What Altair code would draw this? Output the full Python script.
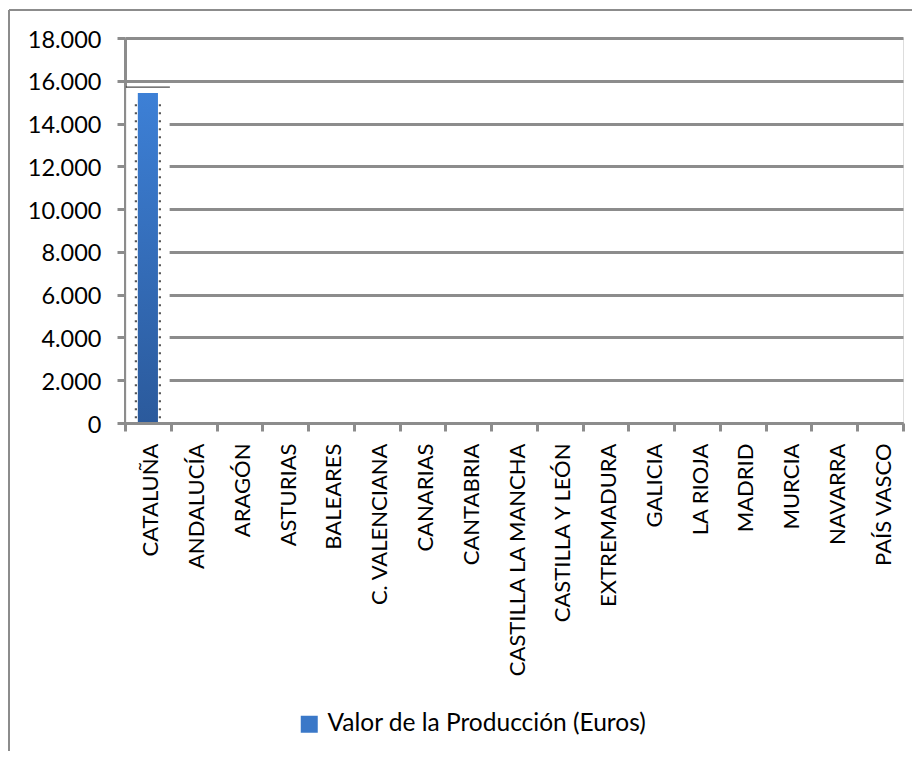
import altair as alt
import pandas as pd

regiones = ["CATALUÑA", "ANDALUCÍA", "ARAGÓN", "ASTURIAS", "BALEARES", "C. VALENCIANA",
            "CANARIAS", "CANTABRIA", "CASTILLA LA MANCHA", "CASTILLA Y LEÓN", "EXTREMADURA",
            "GALICIA", "LA RIOJA", "MADRID", "MURCIA", "NAVARRA", "PAÍS VASCO"]
valor = [15430, 0, 0, 0, 0, 0, 0, 0, 0, 0, 0, 0, 0, 0, 0, 0, 0]
marco_superior = [15700, 0, 0, 0, 0, 0, 0, 0, 0, 0, 0, 0, 0, 0, 0, 0, 0]
punteado = [14900, 0, 0, 0, 0, 0, 0, 0, 0, 0, 0, 0, 0, 0, 0, 0, 0]
serie = "Valor de la Producción (Euros)"
ticks_y = [0, 2000, 4000, 6000, 8000, 10000, 12000, 14000, 16000, 18000]

df = pd.DataFrame({"region": regiones, "valor": valor, "marco": marco_superior,
                   "punteado": punteado, "serie": serie})

FONT = "Lato"
GRAY = "#8c8c8c"
W, H = 778, 385

x_axis = alt.Axis(title=None, labelAngle=270, labelAlign="right", labelBaseline="middle",
                  labelFont=FONT, labelFontSize=22, labelColor="black", labelPadding=12,
                  labelOffset=3,
                  tickBand="extent", tickSize=8, tickWidth=3, tickColor=GRAY,
                  domainColor=GRAY, domainWidth=3, grid=False, labelOverlap=False,
                  labelFlush=False, labelLimit=400, zindex=1)
y_axis = alt.Axis(title=None, values=ticks_y, labelFont=FONT, labelFontSize=23.5,
                  labelColor="black", labelPadding=16, labelOffset=2,
                  labelExpr="replace(format(datum.value, ','), ',', '.')",
                  tickSize=8, tickWidth=3, tickColor=GRAY, domainColor=GRAY, domainWidth=3,
                  grid=True, gridColor=GRAY, gridWidth=3)

X = alt.X("region:N", sort=regiones, scale=alt.Scale(paddingInner=0, paddingOuter=0), axis=x_axis)
yscale = alt.Scale(domain=[0, 18000], nice=False)

base = alt.Chart(df)

caja = base.transform_filter("datum.marco > 0").mark_bar(
    color="white", width=alt.RelativeBandSize(0.95)
).encode(x=X, y=alt.Y("marco:Q", scale=yscale, axis=y_axis))

linea = base.transform_filter("datum.marco > 0").mark_tick(
    color="black", size=44, thickness=1.3
).encode(x=X, y=alt.Y("marco:Q", scale=yscale, axis=y_axis))

dot_l = base.transform_filter("datum.punteado > 0").mark_rule(
    color="#555555", strokeDash=[2, 6], strokeWidth=2.2, xOffset=-12
).encode(x=X, y=alt.Y("punteado:Q", scale=yscale, axis=y_axis), y2=alt.datum(0))

dot_r = base.transform_filter("datum.punteado > 0").mark_rule(
    color="#555555", strokeDash=[2, 6], strokeWidth=2.2, xOffset=12
).encode(x=X, y=alt.Y("punteado:Q", scale=yscale, axis=y_axis), y2=alt.datum(0))

grad = alt.Gradient(gradient="linear", x1=0, y1=0, x2=0, y2=1,
                    stops=[alt.GradientStop(color="#3d80d6", offset=0),
                           alt.GradientStop(color="#2b5a9c", offset=1)])
barra = base.mark_bar(color=grad, width=alt.RelativeBandSize(0.44)).encode(
    x=X, y=alt.Y("valor:Q", scale=yscale, axis=y_axis)
)

leyenda = base.mark_square(opacity=0).encode(
    x=X, y=alt.Y("valor:Q", scale=yscale, axis=y_axis),
    color=alt.Color("serie:N", scale=alt.Scale(range=["#3a78c8"]),
                    legend=alt.Legend(title=None, orient="none", legendX=172, legendY=674,
                                      symbolType="square", symbolSize=289, symbolOpacity=1,
                                      symbolStrokeWidth=0, labelFont=FONT, labelFontSize=24.5,
                                      labelColor="black", labelOffset=6, padding=0,
                                      labelLimit=500))
)

frame_data = alt.Data(values=[{"k": 1}])
marco_h = alt.Chart(frame_data).mark_rule(color=GRAY, strokeWidth=2).encode(
    x=alt.value(-116), x2=alt.value(W + 20), y=alt.value(-28))
marco_v = alt.Chart(frame_data).mark_rule(color=GRAY, strokeWidth=2).encode(
    x=alt.value(-116), y=alt.value(-28), y2=alt.value(720))

chart = alt.layer(caja, linea, dot_l, dot_r, barra, leyenda, marco_h, marco_v).properties(
    width=W, height=H,
    autosize=alt.AutoSizeParams(type="none"),
    padding={"left": 117, "top": 30, "right": 9, "bottom": 328},
).configure_view(stroke=None).configure(background="white")

chart.save("out.html", embed_options={"renderer": "svg", "actions": False})
